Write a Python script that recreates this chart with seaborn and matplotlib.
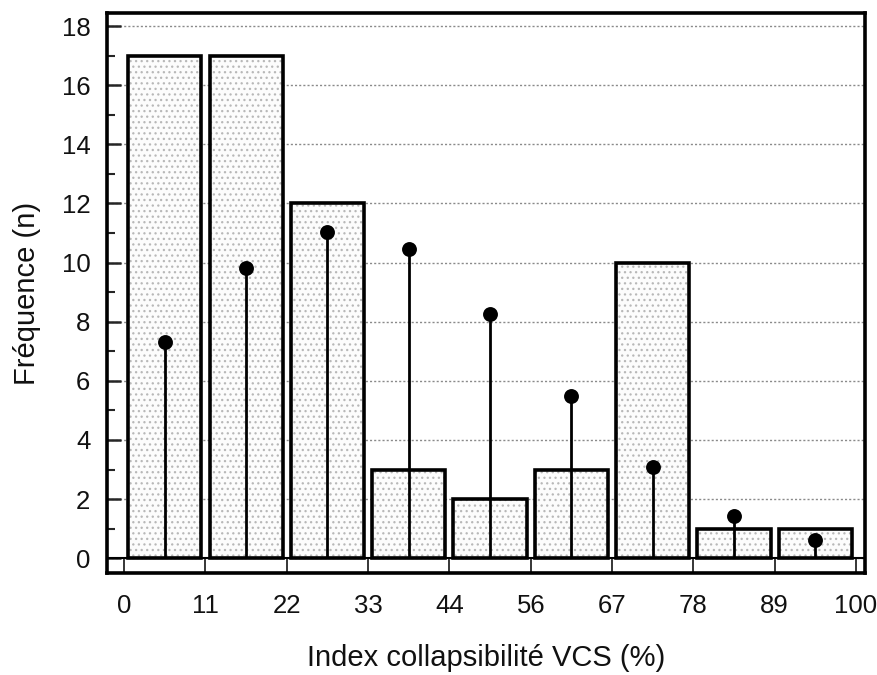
import matplotlib
matplotlib.use("Agg")
import matplotlib.pyplot as plt
import numpy as np
import seaborn as sns
from matplotlib.ticker import MultipleLocator

# data
bins = ["0-11", "11-22", "22-33", "33-44", "44-56", "56-67", "67-78", "78-89", "89-100"]
counts = [17, 17, 12, 3, 2, 3, 10, 1, 1]
expected = [7.3, 9.8, 11.05, 10.45, 8.27, 5.5, 3.08, 1.43, 0.6]
edge_labels = ["0", "11", "22", "33", "44", "56", "67", "78", "89", "100"]

sns.set_theme(style="ticks")
plt.rcParams["font.family"] = ["Liberation Sans", "DejaVu Sans"]
plt.rcParams["hatch.linewidth"] = 0.9
plt.rcParams["text.color"] = "#111111"
plt.rcParams["axes.labelcolor"] = "#111111"
plt.rcParams["xtick.labelcolor"] = "#111111"
plt.rcParams["ytick.labelcolor"] = "#111111"

fig = plt.figure(figsize=(8.78, 6.75), dpi=100)
ax = fig.add_axes([0.1219, 0.1511, 0.8633, 0.8296])

# dotted fill
sns.barplot(x=bins, y=counts, order=bins, width=0.9, color="#fcfcfc",
            edgecolor="#b8b8b8", linewidth=0, hatch="...", ax=ax, zorder=2)
n_fill = len(ax.patches)

# black outlines on top
sns.barplot(x=bins, y=counts, order=bins, width=0.9, color="white", ax=ax, zorder=3)
for p in ax.patches[n_fill:]:
    p.set_facecolor("none")
    p.set_edgecolor("black")
    p.set_linewidth(2.6)
    p.set_hatch(None)

# stems with dots
pos = np.arange(len(bins))
ax.vlines(pos, 0, expected, color="black", linewidth=2.0, zorder=4)
sns.scatterplot(x=pos, y=expected, color="black", s=115, edgecolor="black",
                linewidth=0, ax=ax, zorder=5)

ax.axhline(0, color="black", linewidth=1.5, zorder=3)

ax.set_xlim(-0.71, 8.61)
ax.set_ylim(-0.5, 18.44)
ax.set_xticks(np.arange(len(edge_labels)) - 0.5)
ax.set_xticklabels(edge_labels)
ax.yaxis.set_major_locator(MultipleLocator(2))
ax.yaxis.set_minor_locator(MultipleLocator(1))

ax.grid(axis="y", which="major", linestyle=(0, (1.5, 1.5)), color="#8a8a8a", linewidth=1.0)
ax.set_axisbelow(True)

for s in ax.spines.values():
    s.set_linewidth(2.6)
    s.set_color("black")

ax.tick_params(axis="x", direction="in", length=11, width=1.3, pad=15,
               labelsize=18.5, top=False)
ax.tick_params(axis="y", which="major", direction="in", length=10, width=1.8,
               pad=12, labelsize=18.5, right=False)
ax.tick_params(axis="y", which="minor", direction="in", length=6, width=1.5, right=False)

ax.set_xlabel("Index collapsibilité VCS (%)", fontsize=21, labelpad=19)
ax.set_ylabel("Fréquence (n)", fontsize=21, labelpad=15)

plt.savefig("out.png", dpi=100)
